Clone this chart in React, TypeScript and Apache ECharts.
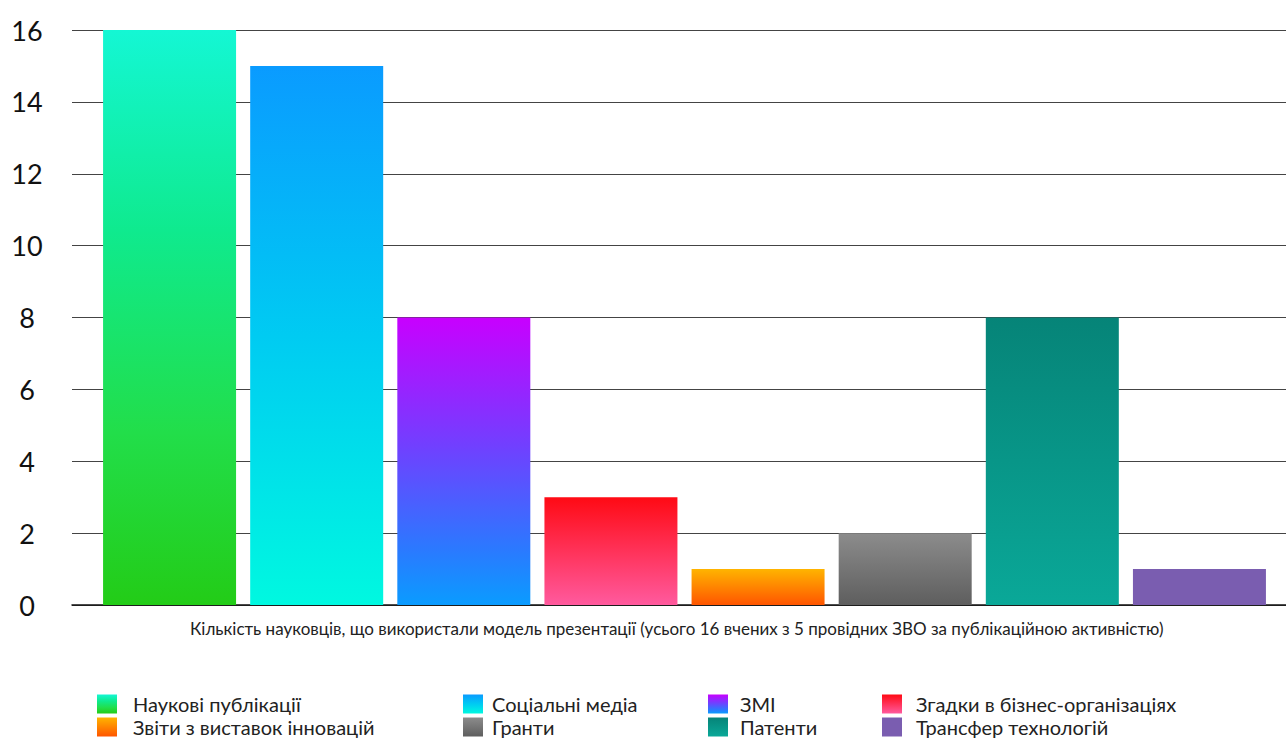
import React, { useEffect, useRef } from "react";
import * as echarts from "echarts";

const categories = [
  "Наукові публікації",
  "Соціальні медіа",
  "ЗМІ",
  "Згадки в бізнес-організаціях",
  "Звіти з виставок інновацій",
  "Гранти",
  "Патенти",
  "Трансфер технологій",
];
const values = [16, 15, 8, 3, 1, 2, 8, 1];
const gradients: [number, string][][] = [
  [[0, "#14F7D4"], [0.35, "#0FEA8E"], [0.7, "#22DE4A"], [1, "#23CC17"]],
  [[0, "#0A9BFF"], [0.5, "#00CBF2"], [1, "#00F8E0"]],
  [[0, "#C800FF"], [0.45, "#7040FF"], [0.8, "#2C78FF"], [1, "#0A9CFF"]],
  [[0, "#FF0A14"], [1, "#FF5A9E"]],
  [[0, "#FFB400"], [1, "#FF5500"]],
  [[0, "#8C8C8C"], [1, "#5E5E5E"]],
  [[0, "#068478"], [1, "#0AA898"]],
  [[0, "#7A5DB0"], [1, "#7A5DB0"]],
];
const yTicks = { min: 0, max: 16, interval: 2 };
const axisTitle =
  "Кількість науковців, що використали модель презентації (усього 16 вчених з 5 провідних ЗВО за публікаційною активністю)";
// legend layout per category: [left, top, text gap]
const legendPos: [number, number, number][] = [
  [97, 694, 11],
  [463, 694, 4],
  [708, 694, 7],
  [882, 694, 9],
  [97, 717, 11],
  [463, 717, 4],
  [708, 717, 7],
  [882, 717, 9],
];

const FONT = "Lato, 'Noto Sans', sans-serif";

export default function App() {
  const ref = useRef<HTMLDivElement>(null);
  useEffect(() => {
    if (!ref.current) return;
    const chart = echarts.init(ref.current, null, { renderer: "svg" });
    const series = categories.map((name, i) => ({
      name,
      type: "bar",
      xAxisIndex: 1,
      yAxisIndex: 1,
      stack: "all",
      barWidth: 133,
      data: values.map((v, j) => (j === i ? v : "-")),
      itemStyle: {
        color: new echarts.graphic.LinearGradient(
          0,
          0,
          0,
          1,
          gradients[i].map(([offset, color]) => ({ offset, color }))
        ),
      },
    }));
    chart.setOption({
      animation: false,
      backgroundColor: "#ffffff",
      textStyle: { fontFamily: FONT },
      grid: [
        { left: 72, right: 0, top: 30, bottom: 137, containLabel: false },
        { left: 96, right: 13, top: 30, bottom: 137, containLabel: false },
      ],
      xAxis: [
        {
          type: "value",
          gridIndex: 0,
          min: 0,
          max: 1,
          axisLabel: { show: false },
          axisTick: { show: false },
          splitLine: { show: false },
          axisLine: { show: true, lineStyle: { color: "#111", width: 1.5 } },
        },
        {
          type: "category",
          gridIndex: 1,
          data: categories,
          axisLabel: { show: false },
          axisTick: { show: false },
          axisLine: { show: false },
        },
      ],
      yAxis: [
        {
          type: "value",
          gridIndex: 0,
          min: yTicks.min,
          max: yTicks.max,
          interval: yTicks.interval,
          axisLine: { show: false },
          axisTick: { show: false },
          axisLabel: {
            fontSize: 27,
            color: "#111",
            align: "center",
            margin: 45,
            fontFamily: FONT,
          },
          splitLine: { lineStyle: { color: "#444", width: 1 } },
        },
        {
          type: "value",
          gridIndex: 1,
          min: yTicks.min,
          max: yTicks.max,
          show: false,
        },
      ],
      legend: categories.map((name, i) => ({
        data: [name],
        left: legendPos[i][0],
        top: legendPos[i][1],
        orient: "horizontal",
        icon: "rect",
        itemWidth: 20,
        itemHeight: 19,
        itemGap: 0,
        padding: 0,
        selectedMode: false,
        textStyle: {
          fontSize: 20,
          color: "#222",
          fontFamily: FONT,
          padding: [0, 0, 0, legendPos[i][2]],
        },
      })),
      graphic: [
        {
          type: "text",
          left: 190,
          top: 620,
          style: {
            text: axisTitle,
            fontSize: 17,
            fill: "#222",
            fontFamily: FONT,
          },
        },
      ],
      series,
    });
    return () => chart.dispose();
  }, []);
  return (
    <div
      ref={ref}
      style={{ position: "absolute", left: 0, top: 0, width: 1286, height: 742 }}
    />
  );
}
